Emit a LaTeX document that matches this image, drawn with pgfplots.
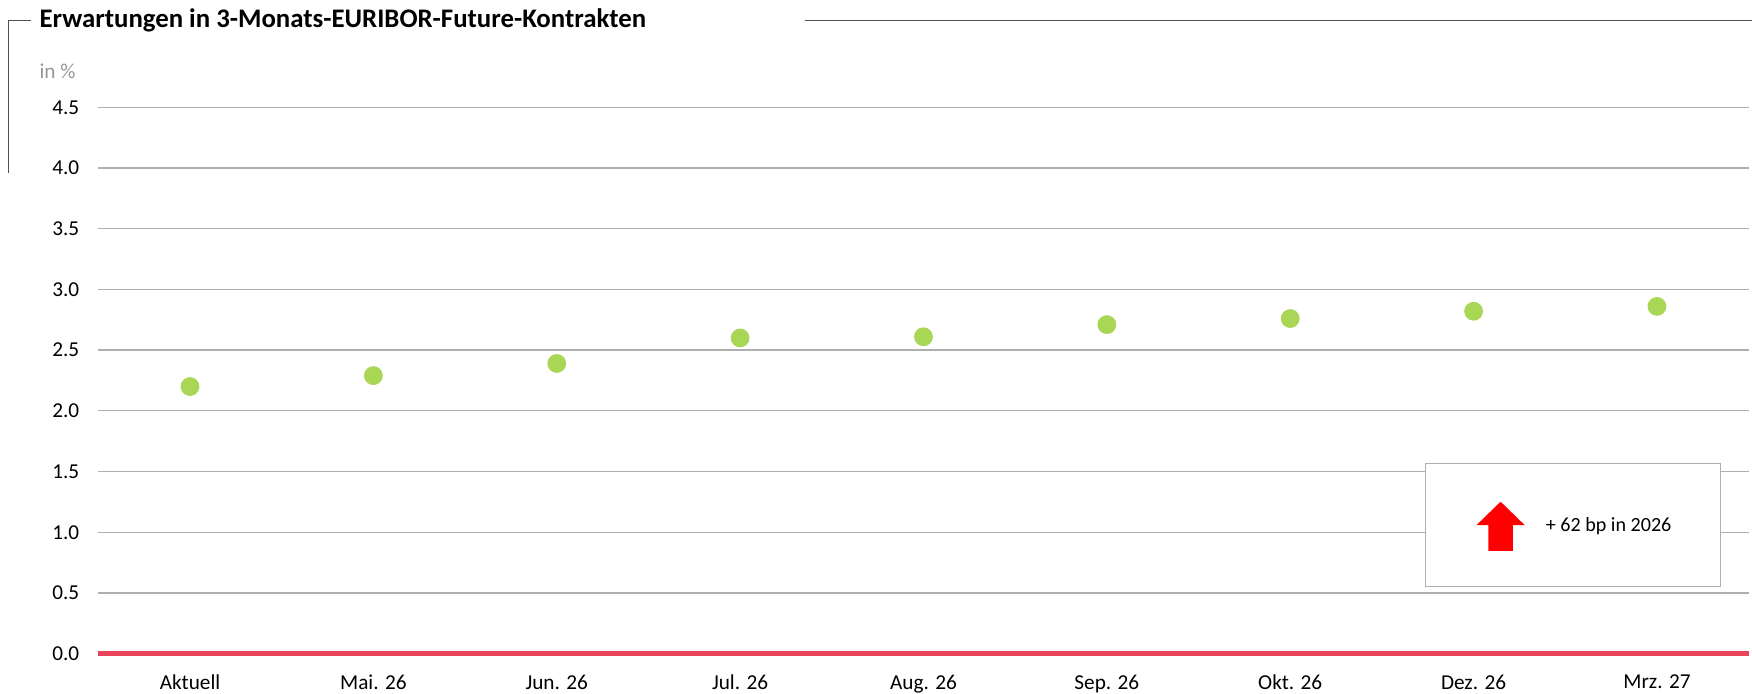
\documentclass[border=0pt]{standalone}
\usepackage{pgfplots}
\pgfplotsset{compat=1.18}
\usepackage{fontspec}
\setmainfont{Carlito}
\definecolor{ptgreen}{RGB}{170,214,86}
\definecolor{zeroline}{RGB}{232,69,90}
\definecolor{gridgray}{RGB}{175,175,175}
\definecolor{labgray}{RGB}{150,150,150}
\definecolor{decor}{RGB}{80,80,80}
\begin{document}
\begin{tikzpicture}
\path[use as bounding box] (0,0) rectangle (784pt,310.5pt);
% title and frame decoration
\draw[decor, line width=0.5pt] (14pt,301.5pt) -- (4pt,301.5pt) -- (4pt,233pt);
\draw[decor, line width=0.5pt] (360pt,301.5pt) -- (784pt,301.5pt);
\node[anchor=west, inner sep=0pt, font=\bfseries\fontsize{12}{14}\selectfont] at (17.5pt,301.5pt) {Erwartungen in 3-Monats-EURIBOR-Future-Kontrakten};
\node[anchor=west, inner sep=0pt, text=labgray, font=\fontsize{9.5}{11}\selectfont] at (17.5pt,278.5pt) {in \%};
\begin{axis}[
  at={(44pt,18pt)}, anchor=south west,
  scale only axis,
  width=738.5pt, height=244.5pt,
  xmin=-0.5, xmax=8.5,
  ymin=0, ymax=4.5,
  xtick={0,...,8},
  xticklabels={Aktuell, Mai. 26, Jun. 26, Jul. 26, Aug. 26, Sep. 26, Okt. 26, Dez. 26, Mrz. 27},
  ytick={0,0.5,...,4.5},
  yticklabel style={/pgf/number format/fixed, /pgf/number format/zerofill, /pgf/number format/precision=1, xshift=-5pt},
  /pgf/number format/assume math mode=true,
  ticklabel style={font=\fontsize{9.5}{11}\selectfont},
  xticklabel style={yshift=-6pt},
  major tick length=0pt,
  axis line style={draw=none},
  ymajorgrids,
  grid style={gridgray, line width=0.6pt},
  clip=false,
]
\draw[zeroline, line width=2.2pt] (axis cs:-0.5,0) -- (axis cs:8.5,0);
\addplot[only marks, mark=*, mark size=4pt, mark options={fill=ptgreen, draw=ptgreen}] coordinates {
  (0,2.20) (1,2.29) (2,2.39) (3,2.60) (4,2.61) (5,2.71) (6,2.76) (7,2.82) (8,2.86)
};
\end{axis}
% annotation box
\draw[gridgray, line width=0.6pt, fill=white] (638pt,48pt) rectangle (770pt,103pt);
\fill[red] (671.5pt,86pt) -- (682.3pt,75.5pt) -- (677pt,75.5pt) -- (677pt,64pt) -- (666pt,64pt) -- (666pt,75.5pt) -- (660.7pt,75.5pt) -- cycle;
\node[anchor=west, inner sep=0pt, font=\fontsize{9}{11}\selectfont] at (691.5pt,75pt) {+ 62 bp in 2026};
\end{tikzpicture}
\end{document}
